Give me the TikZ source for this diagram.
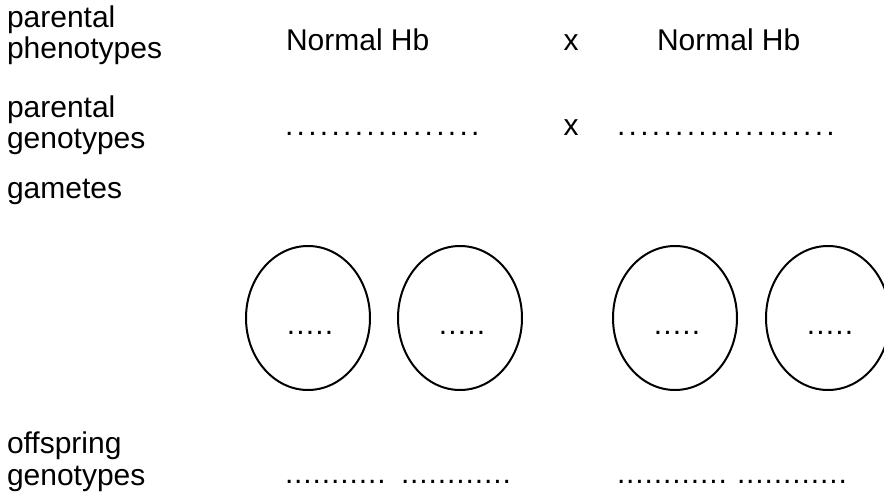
\documentclass[tikz,border=0pt]{standalone}
\usepackage{fontspec}
\setmainfont{Liberation Sans}
\usetikzlibrary{shapes.geometric}
\begin{document}
\begin{tikzpicture}[x=1pt,y=-1pt,
  every node/.style={inner sep=0pt, outer sep=0pt,
    font=\fontsize{30}{31}\selectfont},
  lbl/.style={anchor=base west},
  mid/.style={anchor=base},
  blankrow/.style={anchor=base west,
    font=\fontsize{30}{31}\selectfont\addfontfeature{LetterSpace=11}},
  blankshort/.style={anchor=base west,
    font=\fontsize{30}{31}\selectfont\addfontfeature{LetterSpace=3}},
  blankin/.style={anchor=base,
    font=\fontsize{30}{31}\selectfont\addfontfeature{LetterSpace=4}},
  gamete/.style={draw, ellipse, line width=2pt,
    minimum width=124pt, minimum height=144pt}]
\useasboundingbox (0,0) rectangle (884,500);
\clip (0,0) rectangle (884,500);

% row labels
\node[lbl] (phenoA) at (7,28)  {parental};
\node[lbl] (phenoB) at (7,59)  {phenotypes};
\node[lbl] (genoA)  at (7,118) {parental};
\node[lbl] (genoB)  at (7,149) {genotypes};
\node[lbl] (gam)    at (7,198) {gametes};
\node[lbl] (offA)   at (7,453) {offspring};
\node[lbl] (offB)   at (7,485) {genotypes};

% parental phenotypes
\node[lbl] (mum) at (286,51) {Normal Hb};
\node[mid] (cross1) at (571,51) {x};
\node[lbl] (dad) at (657,51) {Normal Hb};

% parental genotypes
\node[blankrow] (mumg) at (285,136) {.................};
\node[mid] (cross2) at (571,136) {x};
\node[blankrow] (dadg) at (617,136) {...................};

% gametes
\node[gamete] (g1) at (308,318) {};
\node[gamete] (g2) at (460,318) {};
\node[gamete] (g3) at (675,318) {};
\node[gamete] (g4) at (828,318) {};
\foreach \g in {g1,g2,g3,g4}
  \node[blankin] (\g t) at ([xshift=2pt,yshift=-16pt]\g.center) {.....};

% offspring genotypes
\node[blankshort] (o1) at (285,483) {...........};
\node[blankshort] (o2) at (401,483) {............};
\node[blankshort] (o3) at (617,483) {............};
\node[blankshort] (o4) at (737,483) {............};
\end{tikzpicture}
\end{document}
